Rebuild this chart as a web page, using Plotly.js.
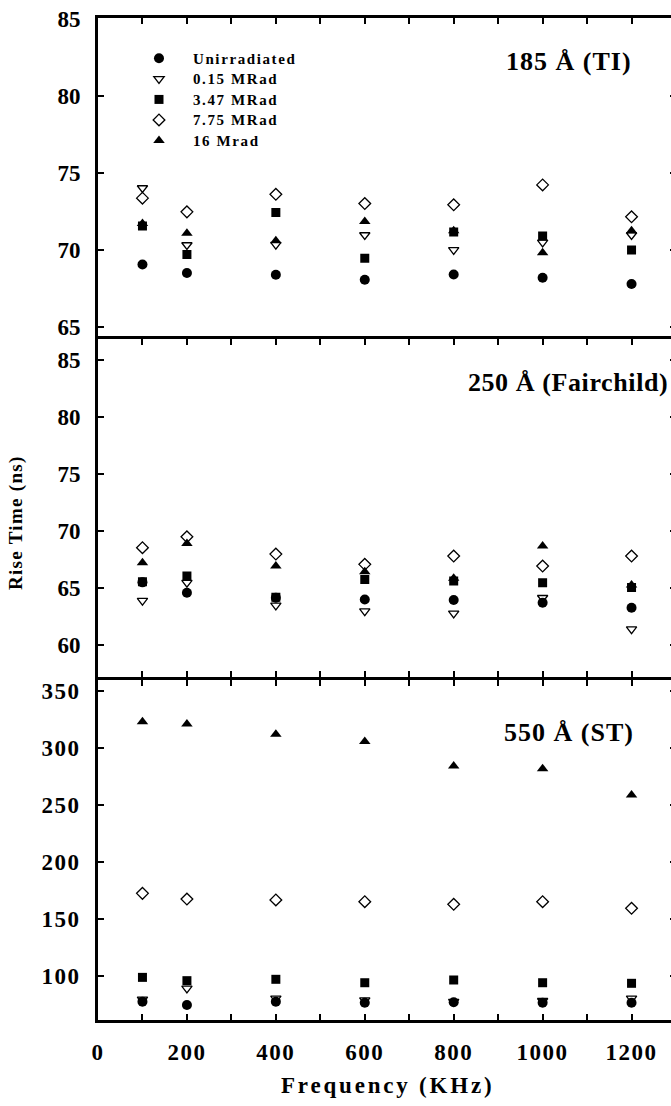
<!DOCTYPE html>
<html>
<head>
<meta charset="utf-8">
<script src="https://cdn.plot.ly/plotly-3.0.1.min.js"></script>
<style>
html, body { margin:0; padding:0; overflow:hidden; background:#fff; }
#chart { width:680px; height:1106px; }
.xtick text, .ytick text { letter-spacing: 1.5px; }
.legendtext { font-size: 15px !important; letter-spacing: 1.6px; }
.annotation[data-index="0"] text, .annotation[data-index="2"] text { letter-spacing: 1px; }
.annotation[data-index="1"] text { letter-spacing: 0.6px; }
.annotation[data-index="3"] text { letter-spacing: 1.3px; }
.annotation[data-index="4"] text { letter-spacing: 2.8px; }
</style>
</head>
<body>
<div id="chart"></div>
<script>
// Frequency (KHz)
const freq = [100, 200, 400, 600, 800, 1000, 1200];
const seriesNames = ['Unirradiated', '0.15 MRad', '3.47 MRad', '7.75 MRad', '16 Mrad'];

// 185 Å (TI) rise time (ns)
const ti_unirr = [69.06, 68.51, 68.40, 68.08, 68.42, 68.21, 67.80];
const ti_015   = [74.03, 70.33, 70.35, 70.98, 70.01, 70.50, 70.98];
const ti_347   = [71.56, 69.71, 72.44, 69.47, 71.17, 70.91, 70.01];
const ti_775   = [73.37, 72.48, 73.62, 73.02, 72.94, 74.23, 72.16];
const ti_16    = [71.73, 71.09, 70.61, 71.86, 71.26, 69.82, 71.26];

// 250 Å (Fairchild) rise time (ns)
const fc_unirr = [65.50, 64.59, 64.15, 64.00, 63.95, 63.71, 63.27];
const fc_015   = [63.89, 65.47, 63.48, 62.98, 62.78, 64.15, 61.40];
const fc_347   = [65.56, 66.05, 64.20, 65.76, 65.61, 65.47, 65.06];
const fc_775   = [68.54, 69.50, 67.98, 67.08, 67.81, 66.93, 67.81];
const fc_16    = [67.22, 68.92, 66.93, 66.43, 65.85, 68.68, 65.26];

// 550 Å (ST) rise time (ns)
const st_unirr = [77.5, 74.6, 77.5, 76.6, 77.0, 76.6, 76.6];
const st_015   = [79.5, 89.2, 80.4, 78.9, 77.5, 78.3, 80.4];
const st_347   = [98.8, 95.9, 97.1, 94.1, 96.5, 94.1, 93.6];
const st_775   = [172.5, 167.5, 166.7, 165.2, 162.9, 165.2, 159.4];
const st_16    = [323.1, 321.1, 312.0, 305.8, 284.2, 281.9, 258.8];

// Axis ticks
const xTickVals = [0, 100, 200, 300, 400, 500, 600, 700, 800, 900, 1000, 1100, 1200];
const xTickText = ['0', '', '200', '', '400', '', '600', '', '800', '', '1000', '', '1200'];
const tiTicks = [65, 70, 75, 80, 85];
const fcTicks = [60, 65, 70, 75, 80, 85];
const stTicks = [100, 150, 200, 250, 300, 350];

const panelLabels = ['185 Å (TI)', '250 Å (Fairchild)', '550 Å (ST)'];
const yTitle = 'Rise Time (ns)';
const xTitle = 'Frequency (KHz)';

const markerStyles = [
  {symbol: 'circle', size: 10, color: 'black', line: {width: 0}},
  {symbol: 'triangle-down-open', size: 9, color: 'black', line: {width: 1.3, color: 'black'}},
  {symbol: 'square', size: 9, color: 'black', line: {width: 0}},
  {symbol: 'diamond-open', size: 9, color: 'black', line: {width: 1.3, color: 'black'}},
  {symbol: 'triangle-up', size: 10, color: 'black', line: {width: 0}}
];

const panels = [
  {xa: 'x3', ya: 'y3', data: [ti_unirr, ti_015, ti_347, ti_775, ti_16], legend: true},
  {xa: 'x2', ya: 'y2', data: [fc_unirr, fc_015, fc_347, fc_775, fc_16], legend: false},
  {xa: 'x',  ya: 'y',  data: [st_unirr, st_015, st_347, st_775, st_16], legend: false}
];

const traces = [];
panels.forEach(p => {
  p.data.forEach((ys, i) => {
    traces.push({
      type: 'scatter', mode: 'markers',
      x: freq, y: ys,
      xaxis: p.xa, yaxis: p.ya,
      name: seriesNames[i],
      showlegend: p.legend,
      marker: markerStyles[i],
      hoverinfo: 'x+y+name'
    });
  });
});

const tickFont = {family: 'Liberation Serif', size: 23, weight: 'bold', color: 'black'};
const baseAx = {
  showline: true, linewidth: 3, linecolor: 'black',
  ticks: 'inside', ticklen: 6, tickwidth: 2, tickcolor: 'black',
  showgrid: false, zeroline: false, tickfont: tickFont, fixedrange: true
};

const dTopBottom = 0.6801, dMidBottom = 0.3428, dBotTop = 0.3398;

const layout = {
  width: 680, height: 1106,
  margin: {l: 98, r: 4, t: 18, b: 86},
  paper_bgcolor: 'white', plot_bgcolor: 'white',
  font: {family: 'Liberation Serif', color: 'black'},
  showlegend: true,
  legend: {
    x: 0.0467, xanchor: 'left', y: 0.975, yanchor: 'top',
    font: {family: 'Liberation Serif', size: 13.5, weight: 'bold', color: 'black'},
    itemwidth: 58, bgcolor: 'rgba(0,0,0,0)', borderwidth: 0, tracegroupgap: 0
  },
  xaxis: Object.assign({}, baseAx, {
    anchor: 'y', domain: [0, 1], range: [0, 1300],
    tickmode: 'array', tickvals: xTickVals, ticktext: xTickText,
    mirror: 'ticks', ticklabelstandoff: 9
  }),
  xaxis2: Object.assign({}, baseAx, {
    anchor: 'y2', domain: [0, 1], range: [0, 1300],
    tickmode: 'array', tickvals: xTickVals, showticklabels: false, mirror: 'ticks'
  }),
  xaxis3: Object.assign({}, baseAx, {
    anchor: 'y3', domain: [0, 1], range: [0, 1300], side: 'top',
    tickmode: 'array', tickvals: xTickVals, showticklabels: false, mirror: false
  }),
  yaxis: Object.assign({}, baseAx, {
    anchor: 'x', domain: [0, dBotTop], range: [61.4, 360.1],
    tickmode: 'array', tickvals: stTicks, mirror: 'ticks', ticklabelstandoff: 10
  }),
  yaxis2: Object.assign({}, baseAx, {
    anchor: 'x2', domain: [dMidBottom, dTopBottom], range: [57.24, 86.89],
    tickmode: 'array', tickvals: fcTicks, mirror: 'ticks', ticklabelstandoff: 10
  }),
  yaxis3: Object.assign({}, baseAx, {
    anchor: 'x3', domain: [dTopBottom, 1], range: [64.26, 85.06],
    tickmode: 'array', tickvals: tiTicks, mirror: 'ticks', ticklabelstandoff: 10
  }),
  annotations: [
    {text: panelLabels[0], xref: 'paper', yref: 'paper', x: 0.9187, y: 0.9561, xanchor: 'right', yanchor: 'middle', showarrow: false,
     font: {family: 'Liberation Serif', size: 26, weight: 'bold', color: 'black'}},
    {text: panelLabels[1], xref: 'paper', yref: 'paper', x: 0.981, y: 0.6367, xanchor: 'right', yanchor: 'middle', showarrow: false,
     font: {family: 'Liberation Serif', size: 26, weight: 'bold', color: 'black'}},
    {text: panelLabels[2], xref: 'paper', yref: 'paper', x: 0.922, y: 0.2874, xanchor: 'right', yanchor: 'middle', showarrow: false,
     font: {family: 'Liberation Serif', size: 26, weight: 'bold', color: 'black'}},
    {text: yTitle, xref: 'paper', yref: 'paper', x: -0.142, y: 0.496, xanchor: 'center', yanchor: 'middle', textangle: -90, showarrow: false,
     font: {family: 'Liberation Serif', size: 19, weight: 'bold', color: 'black'}},
    {text: xTitle, xref: 'paper', yref: 'paper', x: 0.5, y: -0.0649, xanchor: 'center', yanchor: 'middle', showarrow: false,
     font: {family: 'Liberation Serif', size: 23, weight: 'bold', color: 'black'}}
  ]
};

Plotly.newPlot('chart', traces, layout, {displayModeBar: false, staticPlot: true});
</script>
</body>
</html>
